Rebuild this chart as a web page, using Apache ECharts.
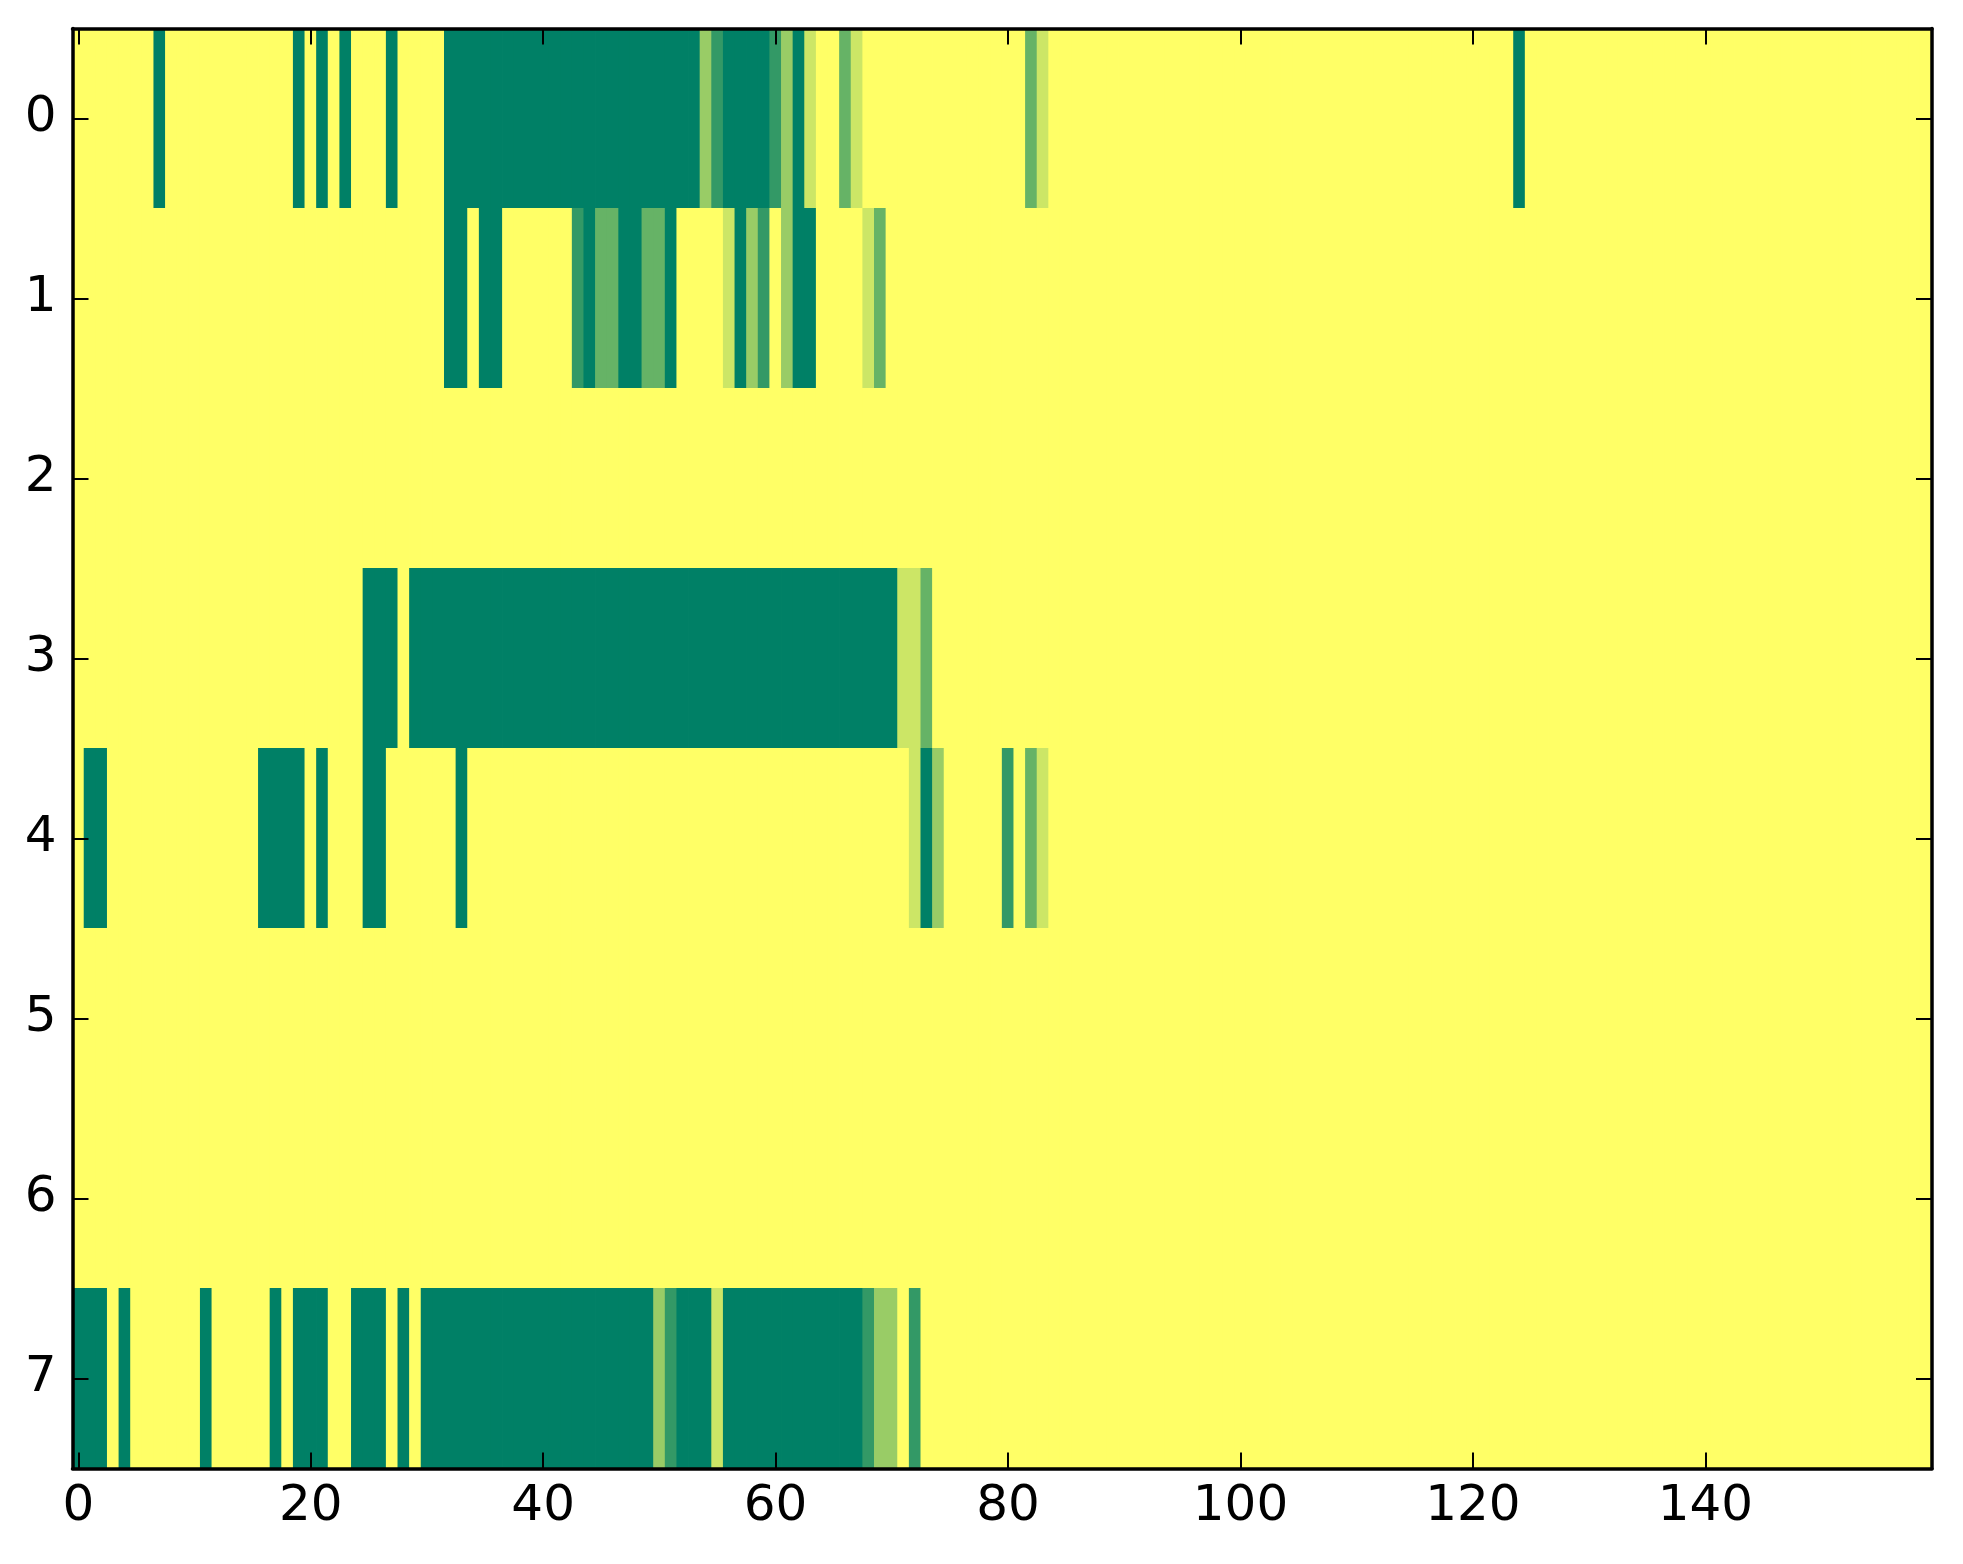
<!DOCTYPE html>
<html>
<head>
<meta charset="utf-8">
<script src="https://cdn.jsdelivr.net/npm/echarts@6/dist/echarts.min.js"></script>
<style>
html,body{margin:0;padding:0;background:#ffffff;}
#chart{width:1963px;height:1564px;}
</style>
</head>
<body>
<div id="chart"></div>
<script>
// Levels: 0 = dark green ... 5 = yellow (summer colormap)
const row0 = [
  5,5,5,5,5,5,5,0,5,5, 5,5,5,5,5,5,5,5,5,0,
  5,0,5,0,5,5,5,0,5,5, 5,5,0,0,0,0,0,0,0,0,
  0,0,0,0,0,0,0,0,0,0, 0,0,0,0,3,1,0,0,0,0,
  1,3,0,4,5,5,2,4,5,5, 5,5,5,5,5,5,5,5,5,5,
  5,5,2,4,5,5,5,5,5,5, 5,5,5,5,5,5,5,5,5,5,
  5,5,5,5,5,5,5,5,5,5, 5,5,5,5,5,5,5,5,5,5,
  5,5,5,5,0,5,5,5,5,5, 5,5,5,5,5,5,5,5,5,5,
  5,5,5,5,5,5,5,5,5,5, 5,5,5,5,5,5,5,5,5,5
];
const row1 = [
  5,5,5,5,5,5,5,5,5,5, 5,5,5,5,5,5,5,5,5,5,
  5,5,5,5,5,5,5,5,5,5, 5,5,0,0,5,0,0,5,5,5,
  5,5,5,1,0,2,2,0,0,2, 2,0,5,5,5,5,4,0,3,1,
  5,3,0,0,5,5,5,5,4,2, 5,5,5,5,5,5,5,5,5,5,
  5,5,5,5,5,5,5,5,5,5, 5,5,5,5,5,5,5,5,5,5,
  5,5,5,5,5,5,5,5,5,5, 5,5,5,5,5,5,5,5,5,5,
  5,5,5,5,5,5,5,5,5,5, 5,5,5,5,5,5,5,5,5,5,
  5,5,5,5,5,5,5,5,5,5, 5,5,5,5,5,5,5,5,5,5
];
const row2 = [
  5,5,5,5,5,5,5,5,5,5, 5,5,5,5,5,5,5,5,5,5,
  5,5,5,5,5,5,5,5,5,5, 5,5,5,5,5,5,5,5,5,5,
  5,5,5,5,5,5,5,5,5,5, 5,5,5,5,5,5,5,5,5,5,
  5,5,5,5,5,5,5,5,5,5, 5,5,5,5,5,5,5,5,5,5,
  5,5,5,5,5,5,5,5,5,5, 5,5,5,5,5,5,5,5,5,5,
  5,5,5,5,5,5,5,5,5,5, 5,5,5,5,5,5,5,5,5,5,
  5,5,5,5,5,5,5,5,5,5, 5,5,5,5,5,5,5,5,5,5,
  5,5,5,5,5,5,5,5,5,5, 5,5,5,5,5,5,5,5,5,5
];
const row3 = [
  5,5,5,5,5,5,5,5,5,5, 5,5,5,5,5,5,5,5,5,5,
  5,5,5,5,5,0,0,0,5,0, 0,0,0,0,0,0,0,0,0,0,
  0,0,0,0,0,0,0,0,0,0, 0,0,0,0,0,0,0,0,0,0,
  0,0,0,0,0,0,0,0,0,0, 0,4,4,2,5,5,5,5,5,5,
  5,5,5,5,5,5,5,5,5,5, 5,5,5,5,5,5,5,5,5,5,
  5,5,5,5,5,5,5,5,5,5, 5,5,5,5,5,5,5,5,5,5,
  5,5,5,5,5,5,5,5,5,5, 5,5,5,5,5,5,5,5,5,5,
  5,5,5,5,5,5,5,5,5,5, 5,5,5,5,5,5,5,5,5,5
];
const row4 = [
  5,0,0,5,5,5,5,5,5,5, 5,5,5,5,5,5,0,0,0,0,
  5,0,5,5,5,0,0,5,5,5, 5,5,5,0,5,5,5,5,5,5,
  5,5,5,5,5,5,5,5,5,5, 5,5,5,5,5,5,5,5,5,5,
  5,5,5,5,5,5,5,5,5,5, 5,5,4,0,3,5,5,5,5,5,
  1,5,2,4,5,5,5,5,5,5, 5,5,5,5,5,5,5,5,5,5,
  5,5,5,5,5,5,5,5,5,5, 5,5,5,5,5,5,5,5,5,5,
  5,5,5,5,5,5,5,5,5,5, 5,5,5,5,5,5,5,5,5,5,
  5,5,5,5,5,5,5,5,5,5, 5,5,5,5,5,5,5,5,5,5
];
const row5 = [
  5,5,5,5,5,5,5,5,5,5, 5,5,5,5,5,5,5,5,5,5,
  5,5,5,5,5,5,5,5,5,5, 5,5,5,5,5,5,5,5,5,5,
  5,5,5,5,5,5,5,5,5,5, 5,5,5,5,5,5,5,5,5,5,
  5,5,5,5,5,5,5,5,5,5, 5,5,5,5,5,5,5,5,5,5,
  5,5,5,5,5,5,5,5,5,5, 5,5,5,5,5,5,5,5,5,5,
  5,5,5,5,5,5,5,5,5,5, 5,5,5,5,5,5,5,5,5,5,
  5,5,5,5,5,5,5,5,5,5, 5,5,5,5,5,5,5,5,5,5,
  5,5,5,5,5,5,5,5,5,5, 5,5,5,5,5,5,5,5,5,5
];
const row6 = [
  5,5,5,5,5,5,5,5,5,5, 5,5,5,5,5,5,5,5,5,5,
  5,5,5,5,5,5,5,5,5,5, 5,5,5,5,5,5,5,5,5,5,
  5,5,5,5,5,5,5,5,5,5, 5,5,5,5,5,5,5,5,5,5,
  5,5,5,5,5,5,5,5,5,5, 5,5,5,5,5,5,5,5,5,5,
  5,5,5,5,5,5,5,5,5,5, 5,5,5,5,5,5,5,5,5,5,
  5,5,5,5,5,5,5,5,5,5, 5,5,5,5,5,5,5,5,5,5,
  5,5,5,5,5,5,5,5,5,5, 5,5,5,5,5,5,5,5,5,5,
  5,5,5,5,5,5,5,5,5,5, 5,5,5,5,5,5,5,5,5,5
];
const row7 = [
  0,0,0,5,0,5,5,5,5,5, 5,0,5,5,5,5,5,0,5,0,
  0,0,5,5,0,0,0,5,0,5, 0,0,0,0,0,0,0,0,0,0,
  0,0,0,0,0,0,0,0,0,0, 3,1,0,0,0,4,0,0,0,0,
  0,0,0,0,0,0,0,0,1,3, 3,5,1,5,5,5,5,5,5,5,
  5,5,5,5,5,5,5,5,5,5, 5,5,5,5,5,5,5,5,5,5,
  5,5,5,5,5,5,5,5,5,5, 5,5,5,5,5,5,5,5,5,5,
  5,5,5,5,5,5,5,5,5,5, 5,5,5,5,5,5,5,5,5,5,
  5,5,5,5,5,5,5,5,5,5, 5,5,5,5,5,5,5,5,5,5
];
const rows = [row0, row1, row2, row3, row4, row5, row6, row7];
const rowLabels = ['0','1','2','3','4','5','6','7'];
const colCount = 160;
const colLabels = Array.from({length: colCount}, (_, i) => String(i));
const xTickStep = 20;
const colorLow = '#008066';
const colorHigh = '#ffff66';

const cells = [];
rows.forEach((r, yi) => r.forEach((v, xi) => cells.push([xi, yi, v])));

const FONT = 'DejaVu Sans';
const showX = (i) => i % xTickStep === 0;
function xAxisDef(pos, labels) {
  return {
    type: 'category', data: colLabels, position: pos, boundaryGap: true, z: 10,
    axisLine: { show: true, onZero: false, lineStyle: { color: '#000', width: 3.5 } },
    axisTick: { show: true, inside: true, length: 16, alignWithLabel: true, interval: showX, lineStyle: { color: '#000', width: 2 } },
    axisLabel: { show: labels, interval: showX, fontSize: 50, color: '#000', fontFamily: FONT, margin: 14 },
    splitLine: { show: false }
  };
}
function yAxisDef(pos, labels) {
  return {
    type: 'category', data: rowLabels, position: pos, inverse: true, boundaryGap: true, z: 10,
    axisLine: { show: true, onZero: false, lineStyle: { color: '#000', width: 3.5 } },
    axisTick: { show: true, inside: true, length: 16, alignWithLabel: true, interval: 0, lineStyle: { color: '#000', width: 2 } },
    axisLabel: { show: labels, interval: 0, fontSize: 50, color: '#000', fontFamily: FONT, margin: 16 },
    splitLine: { show: false }
  };
}

const chart = echarts.init(document.getElementById('chart'), null, { renderer: 'canvas' });
chart.setOption({
  backgroundColor: '#ffffff',
  animation: false,
  grid: { left: 72.5, right: 31, top: 28.5, bottom: 95.5, containLabel: false },
  xAxis: [xAxisDef('bottom', true), xAxisDef('top', false)],
  yAxis: [yAxisDef('left', true), yAxisDef('right', false)],
  visualMap: { show: false, type: 'continuous', min: 0, max: 5, dimension: 2, seriesIndex: 0, inRange: { color: [colorLow, colorHigh] } },
  series: [{
    type: 'custom', xAxisIndex: 0, yAxisIndex: 0, data: cells, clip: true, z: 2,
    encode: { x: 0, y: 1 },
    renderItem: function (params, api) {
      const p = api.coord([api.value(0), api.value(1)]);
      const s = api.size([1, 1]);
      const pad = 0.4;
      return {
        type: 'rect',
        shape: { x: p[0] - s[0] / 2 - pad, y: p[1] - s[1] / 2 - pad, width: s[0] + 2 * pad, height: s[1] + 2 * pad },
        style: { fill: api.visual('color') },
        silent: true
      };
    }
  }]
});
</script>
</body>
</html>
